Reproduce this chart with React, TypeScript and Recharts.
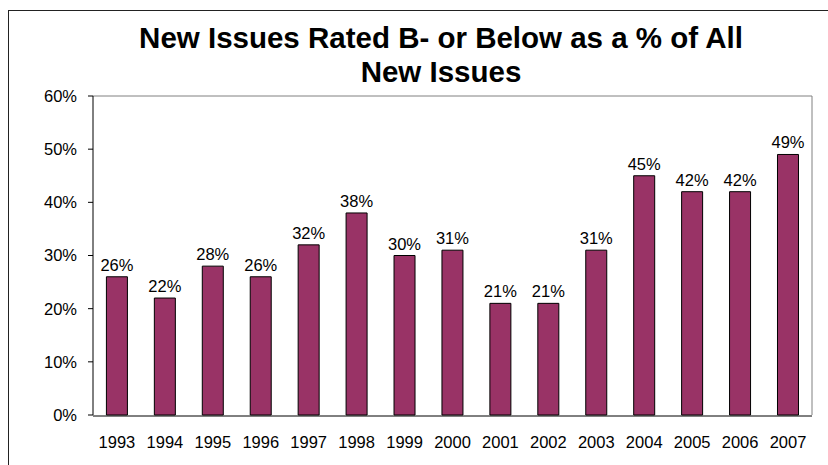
import { Bar, BarChart, LabelList, XAxis, YAxis } from "recharts";

const YEARS = ["1993", "1994", "1995", "1996", "1997", "1998", "1999", "2000", "2001", "2002", "2003", "2004", "2005", "2006", "2007"];
const SHARE_B_MINUS = [26, 22, 28, 26, 32, 38, 30, 31, 21, 21, 31, 45, 42, 42, 49];
const Y_TICKS = [0, 10, 20, 30, 40, 50, 60];
const TITLE_LINES = ["New Issues Rated B- or Below as a % of All", "New Issues"];

const FONT = "Arial, 'Liberation Sans', sans-serif";
const BAR_COLOR = "#993366";

const chartData = YEARS.map((year, i) => ({ year, value: SHARE_B_MINUS[i] }));
const edgeTicks = YEARS.map((_, i) => i).concat(YEARS.length);

export default function App() {
  return (
    <div
      style={{
        position: "absolute",
        left: 0,
        top: 0,
        width: 828,
        height: 465,
        overflow: "hidden",
        background: "#ffffff",
        fontFamily: FONT,
      }}
    >
      {/* frame of the chart object, cut off at right and bottom */}
      <div
        style={{
          position: "absolute",
          left: 8,
          top: 10,
          width: 900,
          height: 500,
          borderTop: "1.5px solid #222",
          borderLeft: "1.5px solid #222",
        }}
      />

      <div
        style={{
          position: "absolute",
          left: 41,
          top: 21,
          width: 800,
          textAlign: "center",
          fontSize: 29.5,
          fontWeight: 700,
          lineHeight: "34px",
          color: "#000",
        }}
      >
        {TITLE_LINES.map((line) => (
          <div key={line}>{line}</div>
        ))}
      </div>

      <BarChart
        width={828}
        height={465}
        data={chartData}
        margin={{ top: 95, right: 15, left: 0, bottom: 48 }}
        barCategoryGap="28%"
        style={{ position: "absolute", left: 0, top: 0 }}
      >
        <XAxis
          xAxisId="edges"
          type="number"
          domain={[0, YEARS.length]}
          ticks={edgeTicks}
          height={1}
          axisLine={{ stroke: "#000" }}
          tick={false}
          tickSize={6}
          tickLine={{ stroke: "#000" }}
          allowDataOverflow
        />
        <XAxis
          dataKey="year"
          height={1}
          axisLine={false}
          tickLine={false}
          tickSize={5}
          tickMargin={16}
          interval={0}
          tick={{ fontSize: 16.5, fill: "#000", fontFamily: FONT }}
        />
        <XAxis
          xAxisId="top"
          dataKey="year"
          orientation="top"
          height={1}
          tick={false}
          tickLine={false}
          axisLine={{ stroke: "#808080" }}
        />
        <YAxis
          width={93}
          domain={[0, 60]}
          ticks={Y_TICKS}
          interval={0}
          axisLine={{ stroke: "#000" }}
          tickLine={{ stroke: "#000" }}
          tickSize={5}
          tickMargin={11}
          tickFormatter={(v) => `${v}%`}
          tick={{ fontSize: 16.5, fill: "#000", fontFamily: FONT }}
        />
        <YAxis
          yAxisId="right"
          orientation="right"
          width={1}
          domain={[0, 60]}
          tick={false}
          tickLine={false}
          axisLine={{ stroke: "#808080" }}
        />
        <Bar
          dataKey="value"
          fill={BAR_COLOR}
          stroke="#000"
          strokeWidth={1}
          isAnimationActive={false}
        >
          <LabelList
            dataKey="value"
            position="top"
            offset={6}
            formatter={(v) => `${v}%`}
            style={{ fontSize: 16.5, fill: "#000", fontFamily: FONT }}
          />
        </Bar>
      </BarChart>
    </div>
  );
}
